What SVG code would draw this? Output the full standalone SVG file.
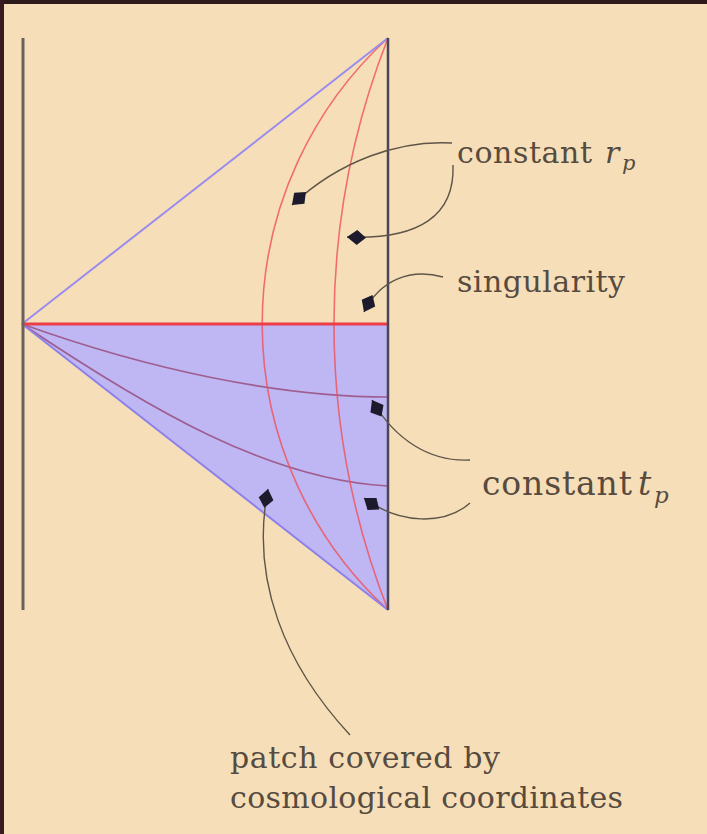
<svg xmlns="http://www.w3.org/2000/svg" width="707" height="834" viewBox="0 0 707 834">
<defs>
<style>
.lbl{fill:#574b40;}
.conn{fill:none;stroke:#5e5448;stroke-width:1.4;}
.redc{fill:none;stroke:#f0505a;stroke-opacity:0.8;stroke-width:1.6;}
.tpc{fill:none;stroke:#9a4e7e;stroke-opacity:0.85;stroke-width:1.6;}
</style>
<marker id="kite" markerUnits="userSpaceOnUse" viewBox="-21 -9 22 18" refX="0" refY="0" markerWidth="22" markerHeight="18" orient="auto">
<path d="M0,0 L-10,-7.5 L-19,0 L-10,7.5 Z" fill="#1c1a2c"/>
</marker>
</defs>
<rect x="0" y="0" width="707" height="834" fill="#f6dfb8"/>
<rect x="0" y="0" width="707" height="4" fill="#2e1a1a"/>
<rect x="0" y="0" width="4" height="834" fill="#3a1a22"/>

<g id="spacetime">
<polygon points="22,324 388,324 388,610" fill="#bfb7f4"/>
<path class="tpc" d="M22,324 C150,370 280,397 388,397"/>
<path class="tpc" d="M22,324 C150,410 270,480 388,486"/>
<path class="redc" d="M388,38 A388,388 0 0 0 388,610"/>
<path class="redc" d="M388,38 A784,784 0 0 0 388,610"/>
<line x1="22" y1="324" x2="388" y2="38" stroke="#9a8cee" stroke-width="2"/>
<line x1="22" y1="324" x2="388" y2="610" stroke="#8d80ea" stroke-width="2"/>
<line x1="22" y1="324" x2="388" y2="324" stroke="#ec3e48" stroke-width="3"/>
<line x1="23" y1="38" x2="23" y2="610" stroke="#6a605c" stroke-width="3"/>
<line x1="388" y1="38" x2="388" y2="610" stroke="#4a4658" stroke-width="2.5"/>
</g>

<g id="label-constant-rp" font-family="'DejaVu Serif', serif">
<text class="lbl" x="457" y="163" font-size="30" textLength="135">constant</text>
<text class="lbl" x="605" y="163" font-size="30" font-style="italic">r</text>
<text class="lbl" x="622" y="170" font-size="21" font-style="italic">p</text>
</g>
<g id="label-singularity" font-family="'DejaVu Serif', serif">
<text class="lbl" x="457" y="292" font-size="30" textLength="168">singularity</text>
</g>
<g id="label-constant-tp" font-family="'DejaVu Serif', serif">
<text class="lbl" x="482" y="495" font-size="33" textLength="150">constant</text>
<text class="lbl" x="638" y="495" font-size="33" font-style="italic">t</text>
<text class="lbl" x="654" y="503" font-size="23" font-style="italic">p</text>
</g>
<g id="label-patch" font-family="'DejaVu Serif', serif">
<text class="lbl" x="230" y="768" font-size="30" textLength="270">patch covered by</text>
<text class="lbl" x="230" y="808" font-size="30" textLength="393">cosmological coordinates</text>
</g>

<g id="connectors">
<path class="conn" d="M452,143 C400,140 340,160 292,205" marker-end="url(#kite)"/>
<path class="conn" d="M453,165 C455,215 420,240 347,237" marker-end="url(#kite)"/>
<path class="conn" d="M443,277 C410,268 380,280 364,312" marker-end="url(#kite)"/>
<path class="conn" d="M470,460 C430,462 395,440 372,400" marker-end="url(#kite)"/>
<path class="conn" d="M470,503 C445,525 400,525 364,498" marker-end="url(#kite)"/>
<path class="conn" d="M350,735 C285,665 250,580 268,489" marker-end="url(#kite)"/>
</g>
</svg>
